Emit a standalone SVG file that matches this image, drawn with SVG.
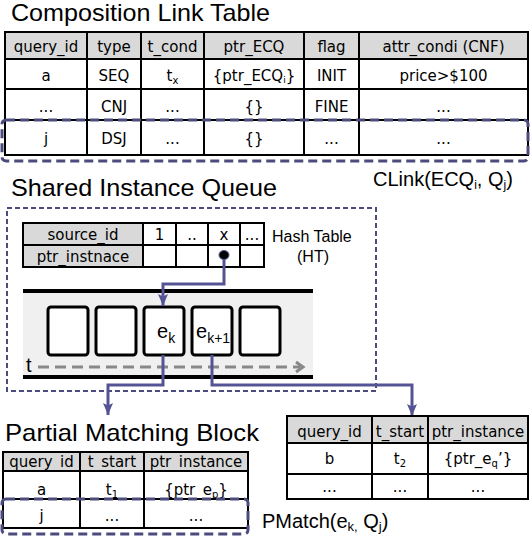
<svg xmlns="http://www.w3.org/2000/svg" width="530" height="540" viewBox="0 0 530 540">
<style>
.title{font-family:"Liberation Sans",Arial,sans-serif;font-size:24px;fill:#000}
.lbl{font-family:"Liberation Sans",Arial,sans-serif;font-size:20px;fill:#000}
.small{font-family:"Liberation Sans",Arial,sans-serif;font-size:16px;fill:#000}
.cell{font-family:"DejaVu Sans",Verdana,sans-serif;font-size:15px;fill:#000;text-anchor:middle}
.hdr{fill:#d9d9d9}
.grid{fill:none;stroke:#000;stroke-width:2}
.dash{fill:none;stroke:#4b4b7d;stroke-width:3;stroke-dasharray:9 5}
.dash2{fill:none;stroke:#4b4b7d;stroke-width:2;stroke-dasharray:5 3}
.conn{fill:none;stroke:#545494;stroke-width:3}
.box{fill:#fff;stroke:#000;stroke-width:3}
</style>
<defs>
<marker id="arr" viewBox="0 0 12 10" refX="12" refY="5" markerWidth="12" markerHeight="10" markerUnits="userSpaceOnUse" orient="auto">
<path d="M0,0 L12,5 L0,10 L2.5,5 z" fill="#545494"/>
</marker>
</defs>

<g id="clt-title"><text class="title" x="11" y="21" textLength="259" lengthAdjust="spacingAndGlyphs">Composition Link Table</text></g>

<g id="composition-link-table">
<rect class="hdr" x="5" y="32" width="523" height="27"/>
<rect class="grid" x="5" y="32" width="523" height="123"/>
<path class="grid" d="M5,59H528M5,89H528M5,120H528M87,32V155M141,32V155M204,32V155M304,32V155M359,32V155"/>
<text class="cell" x="46" y="52">query_id</text>
<text class="cell" x="114" y="52">type</text>
<text class="cell" x="172.5" y="52">t_cond</text>
<text class="cell" x="254" y="52">ptr_ECQ</text>
<text class="cell" x="331.5" y="52">flag</text>
<text class="cell" x="443.5" y="52">attr_condi (CNF)</text>
<text class="cell" x="46" y="81">a</text>
<text class="cell" x="114" y="81">SEQ</text>
<text class="cell" x="172.5" y="81">t<tspan font-size="10" dy="3">x</tspan></text>
<text class="cell" x="254" y="81">{ptr_ECQ<tspan font-size="9" dy="2">i</tspan><tspan dy="-2">}</tspan></text>
<text class="cell" x="331.5" y="81">INIT</text>
<text class="cell" x="443.5" y="81">price&gt;$100</text>
<text class="cell" x="46" y="112">...</text>
<text class="cell" x="114" y="112">CNJ</text>
<text class="cell" x="172.5" y="112">...</text>
<text class="cell" x="254" y="112">{}</text>
<text class="cell" x="331.5" y="112">FINE</text>
<text class="cell" x="443.5" y="112">...</text>
<text class="cell" x="46" y="144">j</text>
<text class="cell" x="114" y="144">DSJ</text>
<text class="cell" x="172.5" y="144">...</text>
<text class="cell" x="254" y="144">{}</text>
<text class="cell" x="331.5" y="144">...</text>
<text class="cell" x="443.5" y="144">...</text>
</g>

<g id="clink"><rect class="dash" x="2" y="120" width="526" height="41" rx="4"/>
<text class="lbl" x="373" y="186">CLink(ECQ<tspan font-size="12" dy="3">i</tspan><tspan dy="-3">, Q</tspan><tspan font-size="12" dy="3">j</tspan><tspan dy="-3">)</tspan></text></g>

<g id="siq-title"><text class="title" x="11" y="196" textLength="266" lengthAdjust="spacingAndGlyphs">Shared Instance Queue</text></g>

<g id="shared-instance-queue">
<rect class="dash2" x="7" y="208" width="369" height="183"/>
</g>

<g id="hash-table">
<rect class="hdr" x="23" y="223" width="120" height="44"/>
<rect fill="#fff" x="143" y="223" width="121" height="44"/>
<rect class="grid" x="23" y="223" width="241" height="44"/>
<path class="grid" d="M23,245H264M143,223V267M176,223V267M208,223V267M240,223V267"/>
<text class="cell" x="83" y="240">source_id</text>
<text class="cell" x="83" y="262">ptr_instnace</text>
<text class="cell" x="159.5" y="240">1</text>
<text class="cell" x="192" y="240">..</text>
<text class="cell" x="224" y="240">x</text>
<text class="cell" x="252" y="240">...</text>
<text class="small" x="272" y="242">Hash Table</text>
<text class="small" x="313" y="262" text-anchor="middle">(HT)</text>
</g>

<g id="queue">
<rect fill="#f0f0f0" x="23" y="291" width="290" height="86"/>
<path d="M23,291H313M23,377H313" stroke="#000" stroke-width="4" fill="none"/>
<rect class="box" x="48" y="307" width="40" height="48" rx="3"/>
<rect class="box" x="96" y="307" width="40" height="48" rx="3"/>
<rect class="box" x="144" y="307" width="40" height="48" rx="3"/>
<rect class="box" x="192" y="307" width="40" height="48" rx="3"/>
<rect class="box" x="240" y="307" width="40" height="48" rx="3"/>
<text class="lbl" x="157" y="338">e<tspan font-size="14" dy="5">k</tspan></text>
<text class="lbl" x="196" y="338">e<tspan font-size="14" dy="5">k+1</tspan></text>
<text class="lbl" x="26" y="372">t</text>
<path d="M38,367H300" stroke="#888" stroke-width="3" stroke-dasharray="11 6" fill="none"/>
<path d="M296,362L303,367L296,372" stroke="#888" stroke-width="3" fill="none"/>
</g>

<g id="connectors">
<path class="conn" d="M224,256V284H163V306" marker-end="url(#arr)"/>
<path class="conn" d="M163,355V385H108V415" marker-end="url(#arr)"/>
<path class="conn" d="M212,355V385H412V416" marker-end="url(#arr)"/>
</g>
<ellipse cx="224" cy="255" rx="5" ry="4.5" fill="#000" stroke="#545494" stroke-width="1"/>

<g id="pmb-title"><text class="title" x="5" y="441" textLength="254" lengthAdjust="spacingAndGlyphs">Partial Matching Block</text></g>

<g id="partial-matching-block">
<rect class="hdr" x="3" y="452" width="245" height="19"/>
<rect class="grid" x="3" y="452" width="245" height="76"/>
<path class="grid" d="M3,471H248M3,499H248M80,452V528M144,452V528"/>
<text class="cell" x="41.5" y="467">query_id</text>
<text class="cell" x="112" y="467">t_start</text>
<text class="cell" x="196" y="467">ptr_instance</text>
<text class="cell" x="41.5" y="495">a</text>
<text class="cell" x="112" y="495">t<tspan font-size="10" dy="3">1</tspan></text>
<text class="cell" x="196" y="495">{ptr_e<tspan font-size="10" dy="3">p</tspan><tspan dy="-3">}</tspan></text>
<text class="cell" x="41.5" y="521">j</text>
<text class="cell" x="112" y="521">...</text>
<text class="cell" x="196" y="521">...</text>
</g>

<g id="pmatch"><rect class="dash" x="2" y="499" width="246" height="35" rx="4"/>
<text class="lbl" x="262" y="528">PMatch(e<tspan font-size="13" dy="3">k,</tspan><tspan dy="-3"> Q</tspan><tspan font-size="13" dy="3">j</tspan><tspan dy="-3">)</tspan></text></g>

<g id="pmb-table-2">
<rect class="hdr" x="287" y="416" width="241" height="27"/>
<rect class="grid" x="287" y="416" width="241" height="83"/>
<path class="grid" d="M287,443H528M287,474H528M372,416V499M428,416V499"/>
<text class="cell" x="329.5" y="437">query_id</text>
<text class="cell" x="400" y="437">t_start</text>
<text class="cell" x="478" y="437">ptr_instance</text>
<text class="cell" x="329.5" y="464">b</text>
<text class="cell" x="400" y="464">t<tspan font-size="10" dy="3">2</tspan></text>
<text class="cell" x="478" y="464">{ptr_e<tspan font-size="10" dy="3">q</tspan><tspan dy="-3">’}</tspan></text>
<text class="cell" x="329.5" y="492">...</text>
<text class="cell" x="400" y="492">...</text>
<text class="cell" x="478" y="492">...</text>
</g>
</svg>
